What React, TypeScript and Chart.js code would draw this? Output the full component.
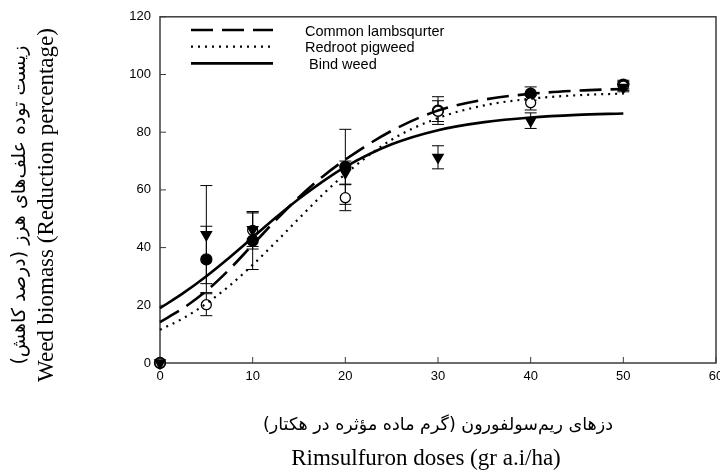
import { useEffect, useRef } from "react";
import { Chart, registerables } from "chart.js";

Chart.register(...registerables);

// ---- data ----
const doses = [0, 5, 10, 20, 30, 40, 50];

const lambsquarterMean = [0, 35.9, 42.4, 68, 87.5, 93.4, 96.5];
const lambsquarterErr = [0, 11.5, 10, 13, 4.8, 2.3, 1.5];
const pigweedMean = [0, 20.2, 46, 57.3, 87.3, 90.2, 96];
const pigweedErr = [0, 3.8, 6.5, 4.5, 3.6, 2.5, 1.5];
const bindweedMean = [0, 44.5, 46.2, 66, 71.3, 84, 95.5];
const bindweedErr = [0, 17, 5.8, 4, 4, 2.7, 1.5];

const curveDoses = [0, 2.5, 5, 7.5, 10, 12.5, 15, 17.5, 20, 25, 30, 35, 40, 45, 50];
const lambsquarterFit = [14.2, 19, 25, 32.5, 41, 49.5, 57.5, 64.5, 70.5, 80.5, 87.5, 91.3, 93.3, 94.4, 95.0];
const pigweedFit = [11.5, 15.5, 20.6, 26.8, 34, 41.9, 50.1, 58.2, 65.5, 77.4, 84.9, 89.3, 91.6, 92.8, 93.4];
const bindweedFit = [19.0, 24.2, 30.1, 36.6, 43.5, 50.4, 56.9, 62.8, 68.0, 75.8, 80.7, 83.5, 85.1, 86.0, 86.5];

const seriesNames = ["Common lambsqurter", "Redroot pigweed", " Bind weed"];

const xMin = 0, xMax = 60, xStep = 10;
const yMin = 0, yMax = 120, yStep = 20;

const xTitleFa = "دزهای ریم‌سولفورون (گرم ماده مؤثره در هکتار)";
const xTitleEn = "Rimsulfuron doses (gr a.i/ha)";
const yTitleFa = "زیست توده علف‌های هرز (درصد کاهش)";
const yTitleEn = "Weed biomass (Reduction percentage)";

const frameColor = "#3c3c3c";
const tickFont = "Liberation Sans, Arial, sans-serif";

const pts = (xs: number[], ys: number[]) => xs.map((x, i) => ({ x, y: ys[i] }));

const decorPlugin = {
  id: "decor",
  beforeDatasetsDraw(chart: any) {
    const { ctx, chartArea: a, scales } = chart;
    const xs = scales.x, ys = scales.y;
    ctx.save();
    // frame
    ctx.strokeStyle = frameColor;
    ctx.lineWidth = 1.5;
    ctx.strokeRect(a.left, a.top, a.right - a.left, a.bottom - a.top);
    // inward ticks
    ctx.lineWidth = 1;
    xs.ticks.forEach((t: any) => {
      const px = xs.getPixelForValue(t.value);
      ctx.beginPath();
      ctx.moveTo(px, a.bottom);
      ctx.lineTo(px, a.bottom - 6);
      ctx.stroke();
    });
    ys.ticks.forEach((t: any) => {
      const py = ys.getPixelForValue(t.value);
      ctx.beginPath();
      ctx.moveTo(a.left, py);
      ctx.lineTo(a.left + 6, py);
      ctx.stroke();
    });
    // error bars
    ctx.strokeStyle = "#000";
    ctx.lineWidth = 1;
    chart.data.datasets.forEach((ds: any) => {
      if (!ds.errors) return;
      ds.data.forEach((p: any, i: number) => {
        const e = ds.errors[i];
        if (!e) return;
        const px = xs.getPixelForValue(p.x);
        const t = ys.getPixelForValue(p.y + e);
        const b = ys.getPixelForValue(p.y - e);
        ctx.beginPath();
        ctx.moveTo(px, t);
        ctx.lineTo(px, b);
        ctx.moveTo(px - 6, t);
        ctx.lineTo(px + 6, t);
        ctx.moveTo(px - 6, b);
        ctx.lineTo(px + 6, b);
        ctx.stroke();
      });
    });
    ctx.restore();
  },
  afterDraw(chart: any) {
    const { ctx } = chart;
    ctx.save();
    // legend
    const curves = chart.data.datasets.filter((d: any) => d.isCurve);
    curves.forEach((ds: any, i: number) => {
      const y = 30 + i * 16.7;
      ctx.strokeStyle = "#000";
      ctx.lineWidth = ds.borderWidth;
      ctx.setLineDash(ds.borderDash || []);
      ctx.beginPath();
      ctx.moveTo(191, y);
      ctx.lineTo(273, y);
      ctx.stroke();
      ctx.setLineDash([]);
      ctx.fillStyle = "#000";
      ctx.font = `14.5px ${tickFont}`;
      ctx.textAlign = "left";
      ctx.textBaseline = "middle";
      ctx.fillText(ds.label, 305, y + 1.5);
    });
    // x titles
    ctx.fillStyle = "#000";
    ctx.textAlign = "center";
    ctx.textBaseline = "middle";
    ctx.direction = "rtl";
    ctx.font = "17.5px 'DejaVu Sans'";
    ctx.fillText(xTitleFa, 438, 425);
    ctx.direction = "ltr";
    ctx.font = "23px 'Liberation Serif'";
    ctx.fillText(xTitleEn, 426, 459);
    // y titles
    ctx.save();
    ctx.translate(47, 205);
    ctx.rotate(-Math.PI / 2);
    ctx.fillText(yTitleEn, 0, 0);
    ctx.restore();
    ctx.save();
    ctx.translate(20, 205);
    ctx.rotate(-Math.PI / 2);
    ctx.direction = "rtl";
    ctx.font = "19px 'DejaVu Sans'";
    ctx.fillText(yTitleFa, 0, 0);
    ctx.restore();
    ctx.restore();
  },
};

export default function App() {
  const ref = useRef<HTMLCanvasElement | null>(null);
  useEffect(() => {
    if (!ref.current) return;
    const markerBase = { showLine: false, clip: false as any, borderColor: "#000", pointBorderWidth: 1.3 };
    const chart = new Chart(ref.current, {
      type: "scatter",
      data: {
        datasets: [
          {
            label: seriesNames[0],
            data: pts(curveDoses, lambsquarterFit),
            showLine: true,
            isCurve: true,
            borderColor: "#000",
            borderWidth: 2.6,
            borderDash: [22, 9],
            pointRadius: 0,
            cubicInterpolationMode: "monotone",
            clip: false,
          } as any,
          {
            label: seriesNames[1],
            data: pts(curveDoses, pigweedFit),
            showLine: true,
            isCurve: true,
            borderColor: "#000",
            borderWidth: 2.2,
            borderDash: [2, 5],
            pointRadius: 0,
            cubicInterpolationMode: "monotone",
            clip: false,
          } as any,
          {
            label: seriesNames[2],
            data: pts(curveDoses, bindweedFit),
            showLine: true,
            isCurve: true,
            borderColor: "#000",
            borderWidth: 2.6,
            pointRadius: 0,
            cubicInterpolationMode: "monotone",
            clip: false,
          } as any,
          {
            ...markerBase,
            label: "m3",
            data: pts(doses, bindweedMean),
            errors: bindweedErr,
            pointStyle: "triangle",
            rotation: 180,
            pointRadius: 6,
            backgroundColor: "#000",
          } as any,
          {
            ...markerBase,
            label: "m2",
            data: pts(doses, pigweedMean),
            errors: pigweedErr,
            pointStyle: "circle",
            pointRadius: 5,
            backgroundColor: "#fff",
          } as any,
          {
            ...markerBase,
            label: "m1",
            data: pts(doses, lambsquarterMean),
            errors: lambsquarterErr,
            pointStyle: "circle",
            pointRadius: 5.5,
            backgroundColor: "#000",
          } as any,
        ],
      },
      options: {
        animation: false,
        responsive: false,
        devicePixelRatio: 1,
        layout: { padding: { left: 130, top: 13, right: 24, bottom: 86 } },
        plugins: { legend: { display: false }, tooltip: { enabled: false } },
        scales: {
          x: {
            type: "linear",
            min: xMin,
            max: xMax,
            grid: { display: false, drawTicks: false },
            border: { display: false },
            ticks: { stepSize: xStep, padding: 6, color: "#000", font: { family: tickFont, size: 13 } },
            afterFit: (s: any) => { s.height = 25; },
          },
          y: {
            min: yMin,
            max: yMax,
            grid: { display: false, drawTicks: false },
            border: { display: false },
            ticks: { stepSize: yStep, padding: 9, color: "#000", font: { family: tickFont, size: 13 } },
            afterFit: (s: any) => { s.width = 30; },
          },
        },
      },
      plugins: [decorPlugin],
    });
    return () => chart.destroy();
  }, []);
  return (
    <div style={{ position: "fixed", left: 0, top: 0, width: 720, height: 474, overflow: "hidden", background: "#fff" }}>
      <canvas ref={ref} width={740} height={474} style={{ display: "block", width: 740, height: 474 }} />
    </div>
  );
}
